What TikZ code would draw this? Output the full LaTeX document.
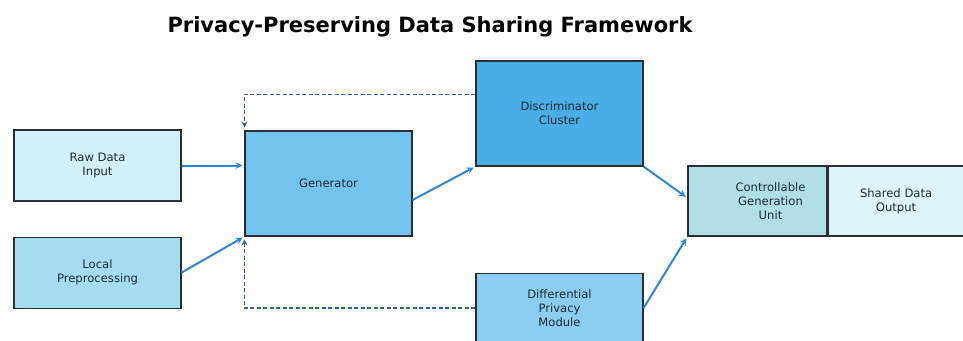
\documentclass[tikz,border=0pt]{standalone}
\usepackage{fontspec}
\setmainfont{DejaVu Sans}
\usepackage{xcolor}
\usetikzlibrary{positioning,shapes,arrows}
\definecolor{rawfill}{HTML}{D4F0F8}
\definecolor{localfill}{HTML}{A4DDF3}
\definecolor{genfill}{HTML}{74C3EE}
\definecolor{discfill}{HTML}{4AADE5}
\definecolor{dpfill}{HTML}{8BCDF0}
\definecolor{ctrlfill}{HTML}{B0DFE5}
\definecolor{outfill}{HTML}{E0F5FA}
\definecolor{boxline}{HTML}{2B2F33}
\definecolor{textdark}{HTML}{1C2B3A}
\definecolor{flowblue}{HTML}{2E86D6}
\definecolor{fbblue}{HTML}{2F5DA8}
\tikzset{
    celltext/.style={
        align=center,
        text=textdark,
        font=\fontsize{11.6}{13.7}\selectfont
    },
    block/.style={
        rectangle,
        draw=boxline,
        line width=1.1pt,
        celltext,
        inner sep=0pt,
        minimum width=167pt,
        minimum height=105pt
    },
    flow/.style={
        ->,
        >=stealth,
        line width=2pt,
        draw=flowblue
    },
    feedback/.style={
        ->,
        >=stealth,
        line width=1.6pt,
        draw=fbblue,
        dash pattern=on 4pt off 2.5pt
    }
}
\begin{document}
\begin{tikzpicture}[x=1pt, y=-1pt]
          \useasboundingbox (0,0) rectangle (963,340);
          \node (title) [anchor=base, font=\fontsize{21}{25}\selectfont\bfseries] at (430,32) {Privacy-Preserving Data Sharing Framework};
          \node (raw) [block, fill=rawfill, minimum height=71pt] at (97.5,165.5) {Raw Data\\Input};
          \node (local) [block, fill=localfill, minimum height=71pt, below=35pt of raw] {Local\\Preprocessing};
          \node (gen) [block, fill=genfill] at (328.5,183.5) {Generator};
          \node (disc) [block, fill=discfill] at (559.5,113.5) {Discriminator\\Cluster};
          \node (dp) [block, fill=dpfill, minimum height=70pt, below=106pt of disc] {Differential\\Privacy\\Module};
          \node (ctrl) [block, fill=ctrlfill, minimum width=139pt, minimum height=70pt,
                        label={[celltext, xshift=13pt]center:Controllable\\Generation\\Unit}] at (757.5,201) {};
          \node (out) [block, fill=outfill, minimum width=136pt, minimum height=70pt, right=0pt of ctrl] {Shared Data\\Output};
          \draw [flow, shorten >=2pt] (raw.east) -- (gen.west |- raw.east);
          \draw [flow, shorten >=2pt] (local.east) -- (gen.south west);
          \draw [flow, shorten >=2pt] ([yshift=-16.5pt]gen.east) -- (disc.south west);
          \draw [flow, shorten >=2pt] (disc.south east) -- ([yshift=3pt]ctrl.west);
          \draw [flow, shorten >=2pt] (dp.east) -- (ctrl.south west);
          \draw [feedback, shorten >=3pt] ([yshift=-34pt]disc.north west) -| (gen.north west);
          \draw [feedback, shorten >=3pt] (dp.west) -| (gen.south west);
        \end{tikzpicture}
\end{document}
